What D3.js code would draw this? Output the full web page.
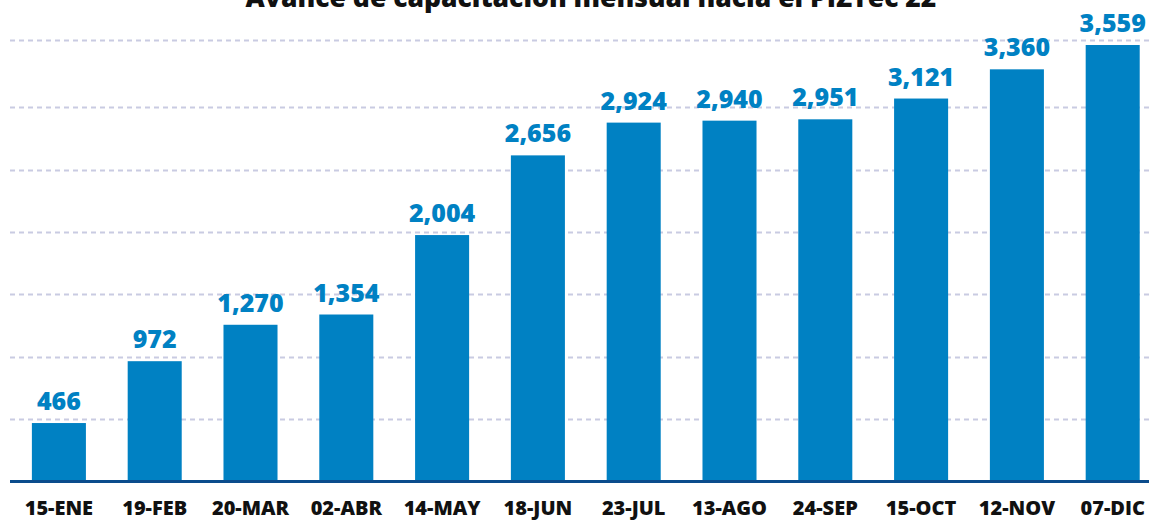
<!DOCTYPE html>
<html>
<head>
<meta charset="utf-8">
<script src="https://cdn.jsdelivr.net/npm/d3@7"></script>
<style>
  html, body { margin: 0; padding: 0; background: #fff; }
  #chart { width: 1149px; height: 520px; }
</style>
</head>
<body>
<div id="chart"></div>
<script>
const categories = ['15-ENE', '19-FEB', '20-MAR', '02-ABR', '14-MAY', '18-JUN',
  '23-JUL', '13-AGO', '24-SEP', '15-OCT', '12-NOV', '07-DIC'];
const values = [466, 972, 1270, 1354, 2004, 2656, 2924, 2940, 2951, 3121, 3360, 3559];
// gridline levels as they sit in the picture
const gridValues = [500, 1010, 1520, 2030, 2540, 3050, 3600];
const title = 'Avance de capacitación mensual hacia el PIZTec 22';

const width = 1149, height = 520;
const baseY = 480;

const svg = d3.select('#chart').append('svg')
  .attr('width', width)
  .attr('height', height)
  .style('display', 'block');

const x = d3.scaleBand()
  .domain(categories)
  .range([11, 11 + 12 * 95.8])
  .paddingInner(0.436)
  .paddingOuter(0.218);

const y = d3.scaleLinear()
  .domain([0, 3559])
  .range([baseY, 45]);

// Title (cropped at the top edge, as in the source)
svg.append('text')
  .attr('x', 591)
  .attr('y', 7)
  .attr('text-anchor', 'middle')
  .attr('font-family', '"Open Sans", sans-serif')
  .attr('font-weight', 800)
  .attr('font-size', '26.5px')
  .attr('fill', '#111')
  .text(title);

// Gridlines
svg.append('g')
  .selectAll('line')
  .data(gridValues)
  .join('line')
  .attr('x1', 10)
  .attr('x2', width)
  .attr('y1', d => Math.round(y(d)) + 0.5)
  .attr('y2', d => Math.round(y(d)) + 0.5)
  .attr('stroke', '#c9cbe2')
  .attr('stroke-width', 2)
  .attr('stroke-dasharray', '5,4');

// Bars
svg.append('g')
  .selectAll('rect')
  .data(values)
  .join('rect')
  .attr('x', (d, i) => x(categories[i]))
  .attr('width', x.bandwidth())
  .attr('y', d => y(d))
  .attr('height', d => baseY - y(d))
  .attr('fill', '#0081c3');

// Value labels
svg.append('g')
  .selectAll('text')
  .data(values)
  .join('text')
  .attr('x', (d, i) => x(categories[i]) + x.bandwidth() / 2)
  .attr('y', d => y(d) - 13)
  .attr('text-anchor', 'middle')
  .attr('font-family', '"Open Sans", sans-serif')
  .attr('font-weight', 800)
  .attr('font-size', '25px')
  .attr('fill', '#0081c3')
  .text(d => d3.format(',')(d));

// Baseline axis
svg.append('line')
  .attr('x1', 10)
  .attr('x2', width)
  .attr('y1', baseY + 1.5)
  .attr('y2', baseY + 1.5)
  .attr('stroke', '#0b4c8c')
  .attr('stroke-width', 3);

// Category labels
svg.append('g')
  .selectAll('text')
  .data(categories)
  .join('text')
  .attr('x', d => x(d) + x.bandwidth() / 2)
  .attr('y', 515)
  .attr('text-anchor', 'middle')
  .attr('font-family', '"Open Sans", sans-serif')
  .attr('font-weight', 800)
  .attr('font-size', '20px')
  .attr('fill', '#111')
  .text(d => d);
</script>
</body>
</html>
